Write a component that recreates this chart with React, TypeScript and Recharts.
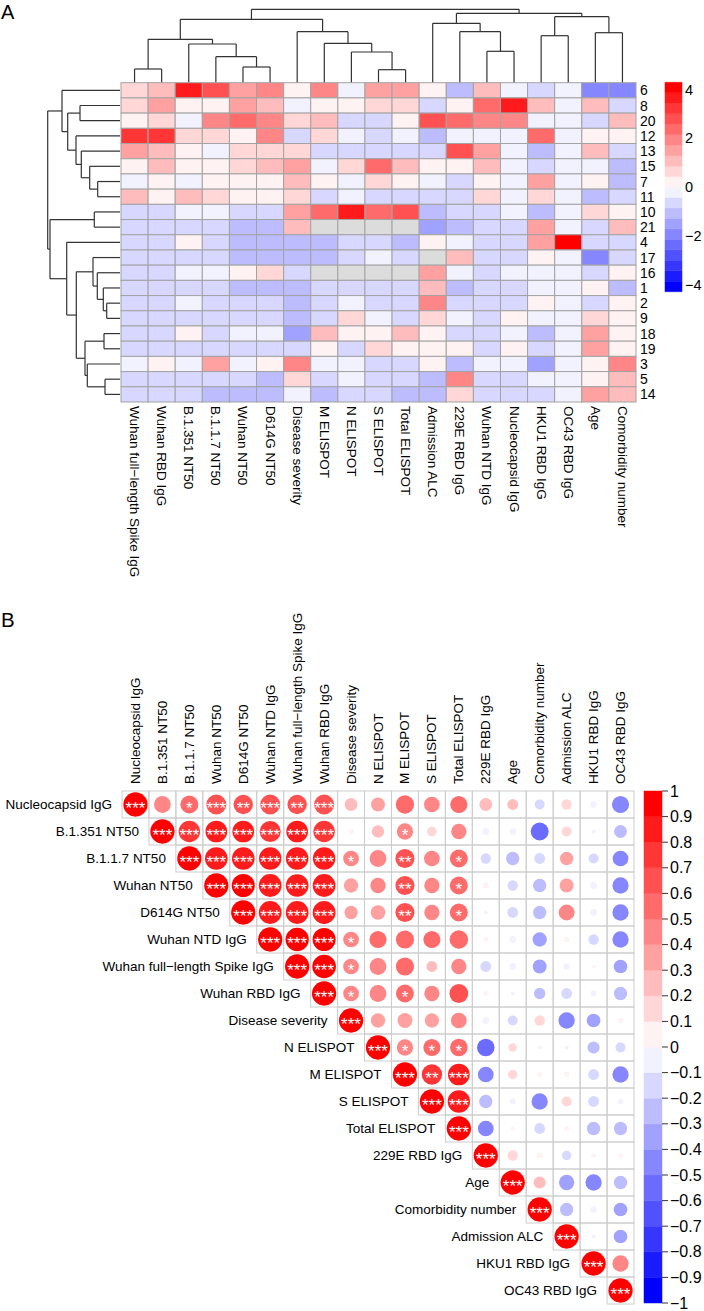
import React from 'react';
import { ScatterChart, Scatter, XAxis, YAxis, ReferenceLine, ReferenceArea } from 'recharts';

const FONT = '"Liberation Sans", Arial, Helvetica, sans-serif';

// ---------- Panel A: clustered heatmap ----------
const heatCols = [
  'Wuhan full\u2212length Spike IgG', 'Wuhan RBD IgG', 'B.1.351 NT50', 'B.1.1.7 NT50', 'Wuhan NT50',
  'D614G NT50', 'Disease severity', 'M ELISPOT', 'N ELISPOT', 'S ELISPOT', 'Total ELISPOT',
  'Admission ALC', '229E RBD IgG', 'Wuhan NTD IgG', 'Nucleocapsid IgG', 'HKU1 RBD IgG',
  'OC43 RBD IgG', 'Age', 'Comorbidity number',
];
const heatRows = ['6', '8', '20', '12', '13', '15', '7', '11', '10', '21', '4', '17', '16', '1', '2', '9', '18', '19', '3', '5', '14'];

// z-scores, one row per patient (null = missing)
const heatValues: (number | null)[][] = [
  [0.6, 1.1, 3.7, 3.0, 1.5, 1.9, 0.2, 1.9, -0.2, 1.5, 1.5, 0.2, -1.1, 1.1, -0.2, -0.6, -0.2, -1.9, -1.9],
  [0.6, 1.5, 0.2, 0.2, 1.5, 1.1, -0.2, 0.2, 0.2, 0.6, 0.6, -0.6, 0.2, 2.4, 3.7, 1.1, -0.2, 1.1, -0.6],
  [0.2, 0.6, -0.2, 1.9, 2.4, 1.9, 0.6, 1.1, -0.6, -0.6, 0.2, 2.8, 2.4, 1.9, 1.9, -0.2, -0.2, -0.6, 1.1],
  [3.2, 3.2, 0.6, 0.6, 0.2, 1.9, -0.6, 0.6, -0.2, -0.6, -0.2, -1.1, -0.2, -0.2, -0.2, 2.4, -0.2, 0.2, 0.2],
  [1.5, 1.1, 0.2, -0.2, 0.6, 0.6, 0.6, -0.6, -0.6, -0.6, -0.6, -0.6, 2.8, 1.5, -0.2, -1.1, -0.2, 1.1, -0.6],
  [0.2, 1.1, 0.2, 0.2, 0.6, 1.1, 1.5, -0.2, 0.6, 2.4, 1.1, 0.2, 0.2, 1.1, -0.2, -0.6, -0.2, -0.2, -1.1],
  [-0.2, 0.2, -0.2, 0.2, 0.2, 0.2, 1.1, 0.2, -0.2, 0.6, 0.2, -0.2, -0.6, 0.2, -0.2, 1.5, -0.2, 0.2, -1.1],
  [1.1, 0.2, 1.1, 0.6, 0.2, 0.2, 0.6, -0.6, -0.2, -0.6, -0.6, -0.6, -0.6, 0.6, -0.2, 0.6, -0.2, -1.1, -0.6],
  [-0.6, -0.6, -0.2, -0.2, -0.6, -0.6, 1.5, 2.4, 3.7, 2.4, 2.8, -1.1, -0.6, -0.6, -0.2, -1.1, -0.2, 0.6, 0.2],
  [-0.6, -0.6, -0.6, -0.6, -1.1, -1.1, 1.1, null, null, null, null, -1.5, -1.1, -0.6, -0.6, 1.5, -0.2, -0.6, 1.1],
  [-0.6, -0.6, 0.2, -0.6, -1.1, -1.1, -1.1, -1.1, -0.6, -0.6, -1.1, 0.2, -0.2, -0.6, -0.6, 1.5, 4.1, -0.6, -0.6],
  [-0.6, -0.6, -0.6, -0.6, -1.1, -1.1, -1.1, -1.1, -0.6, -0.2, -0.6, null, 1.1, -0.6, -0.6, 0.2, -0.2, -1.9, -0.6],
  [-0.6, -0.6, -0.2, -0.2, 0.2, 0.6, -0.6, null, null, null, null, 1.5, -0.2, -0.6, -0.2, -0.2, -0.2, -0.6, 0.2],
  [-0.6, -0.6, -0.6, -0.6, -1.1, -1.1, -1.1, -0.6, -0.6, -0.6, -0.6, 1.1, -1.1, -0.6, -0.6, -0.2, -0.2, 0.2, -1.1],
  [-0.6, -0.6, -0.2, -0.6, -0.6, -0.6, -1.1, -0.6, -0.2, -0.6, -0.6, 1.9, -0.6, -0.6, -0.6, 0.2, -0.2, -0.6, 0.2],
  [-0.6, -0.6, -0.6, -0.6, -0.6, -0.6, -1.1, -0.6, 0.6, -0.2, -0.6, 0.6, -0.2, -0.6, 0.2, -0.2, -0.2, 0.6, 0.2],
  [-0.6, -0.6, 0.2, -0.6, -0.2, -0.2, -1.5, 1.1, 0.2, 0.2, 1.1, 0.2, -0.6, -0.6, -0.2, -1.1, -0.2, 1.5, 0.2],
  [-0.6, -0.6, -0.6, -0.6, -0.6, -0.6, -0.6, 0.2, -0.6, 0.6, 0.2, 0.2, 0.2, -0.6, 0.2, -0.6, -0.2, 1.5, 0.2],
  [-0.2, 0.2, -0.2, 1.5, -0.2, 0.2, 1.9, -0.2, -0.2, -0.6, -0.6, 0.2, -1.1, -0.2, -0.2, -1.5, -0.2, 0.2, 1.9],
  [-0.6, -0.6, -0.6, -0.6, -0.6, -1.1, 0.6, -0.6, -0.2, -0.6, -0.6, -1.1, 1.9, -0.6, -0.6, -0.2, -0.2, 0.2, 1.1],
  [-0.6, -0.6, -0.6, -1.1, -1.1, -1.1, -0.2, -1.1, -0.6, -0.6, -1.1, -1.1, 0.6, -0.6, -0.6, -0.6, -0.2, 1.5, 1.1],
];

// hclust-style merges: negative = leaf (1-based), positive = earlier merge
const colMerge: [number, number][] = [
  [-1, -2], [-5, -6], [-4, 2], [-3, 3], [1, 4], [-10, -11], [-9, 6], [-8, 7], [-7, 8], [5, 9],
  [-14, -15], [-13, 11], [-12, 12], [-16, -17], [-18, -19], [14, 15], [13, 16], [10, 17],
];
const colHeight = [13.3, 15.3, 25.6, 38.3, 43, 12.6, 30.3, 39, 50.6, 63, 31, 50.6, 59, 46.6, 49.6, 65.6, 69, 73];

const rowMerge: [number, number][] = [
  [-2, -3], [-7, -8], [-6, 2], [-5, 3], [-4, 4], [1, 5], [-1, 6], [-9, -10], [-15, -16], [-14, 9],
  [-13, 10], [-12, 11], [-17, -18], [-20, -21], [-19, 14], [13, 15], [12, 16], [-11, 17], [8, 18], [7, 19],
];
const rowHeight = [40, 22.3, 30.3, 38.7, 44, 52.3, 58, 25.7, 13.3, 16.7, 22.7, 27, 16, 15, 32.7, 35, 43.7, 53.3, 70, 72.3];

const heatTicks = [-4, -2, 0, 2, 4];

// ---------- Panel B: correlation matrix ----------
const corrVars = [
  'Nucleocapsid IgG', 'B.1.351 NT50', 'B.1.1.7 NT50', 'Wuhan NT50', 'D614G NT50', 'Wuhan NTD IgG',
  'Wuhan full\u2212length Spike IgG', 'Wuhan RBD IgG', 'Disease severity', 'N ELISPOT', 'M ELISPOT',
  'S ELISPOT', 'Total ELISPOT', '229E RBD IgG', 'Age', 'Comorbidity number', 'Admission ALC',
  'HKU1 RBD IgG', 'OC43 RBD IgG',
];

// upper triangle, row i holds columns i..18
const corrUpper = [
  [1, 0.48, 0.55, 0.68, 0.64, 0.68, 0.64, 0.68, 0.28, 0.33, 0.57, 0.42, 0.5, 0.28, 0.2, -0.17, 0.18, -0.07, -0.5],
  [1, 0.78, 0.8, 0.8, 0.75, 0.8, 0.78, 0.05, 0.26, 0.45, 0.16, 0.4, -0.08, -0.07, -0.55, 0.17, -0.03, -0.28],
  [1, 0.87, 0.87, 0.85, 0.86, 0.85, 0.42, 0.48, 0.62, 0.42, 0.55, -0.18, -0.3, -0.2, 0.3, -0.17, -0.42],
  [1, 0.9, 0.88, 0.87, 0.88, 0.35, 0.4, 0.62, 0.4, 0.55, 0.06, -0.18, -0.3, 0.33, -0.08, -0.45],
  [1, 0.88, 0.88, 0.89, 0.3, 0.36, 0.62, 0.4, 0.55, -0.02, -0.2, -0.3, 0.43, -0.08, -0.45],
  [1, 0.92, 0.9, 0.42, 0.5, 0.56, 0.5, 0.58, 0.04, -0.08, -0.35, 0.05, -0.18, -0.45],
  [1, 0.95, 0.42, 0.48, 0.56, 0.2, 0.4, -0.2, -0.08, -0.33, -0.07, 0.03, -0.32],
  [1, 0.42, 0.48, 0.55, 0.4, 0.6, 0.04, -0.03, -0.22, -0.2, -0.06, -0.3],
  [1, 0.35, 0.38, 0.35, 0.42, -0.08, -0.17, 0.18, -0.45, -0.32, 0.05],
  [1, 0.45, 0.5, 0.52, -0.52, 0.12, -0.03, -0.03, -0.25, -0.17],
  [1, 0.7, 0.8, -0.42, 0.15, 0.05, 0.05, -0.2, -0.45],
  [1, 0.85, -0.3, -0.06, -0.45, 0.17, -0.2, -0.05],
  [1, -0.42, 0.03, -0.2, 0.04, -0.3, -0.3],
  [1, 0.18, 0.06, -0.15, 0.04, 0.04],
  [1, 0.25, -0.4, -0.45, -0.3],
  [1, -0.3, -0.07, -0.32],
  [1, -0.03, -0.32],
  [1, 0.45],
  [1],
];

// significance marks off the diagonal (diagonal is all ***)
const corrStars: [number, number, string][] = [
  [0, 2, '*'], [0, 3, '***'], [0, 4, '**'], [0, 5, '***'], [0, 6, '**'], [0, 7, '***'],
  [1, 2, '***'], [1, 3, '***'], [1, 4, '***'], [1, 5, '***'], [1, 6, '***'], [1, 7, '***'], [1, 10, '*'],
  [2, 3, '***'], [2, 4, '***'], [2, 5, '***'], [2, 6, '***'], [2, 7, '***'], [2, 8, '*'], [2, 10, '**'], [2, 12, '*'],
  [3, 4, '***'], [3, 5, '***'], [3, 6, '***'], [3, 7, '***'], [3, 10, '**'], [3, 12, '*'],
  [4, 5, '***'], [4, 6, '***'], [4, 7, '***'], [4, 10, '**'], [4, 12, '*'],
  [5, 6, '***'], [5, 7, '***'], [5, 8, '*'],
  [6, 7, '***'], [6, 8, '*'],
  [7, 8, '*'], [7, 10, '*'],
  [9, 10, '*'], [9, 11, '*'], [9, 12, '*'],
  [10, 11, '**'], [10, 12, '***'],
  [11, 12, '***'],
];

const corrTicks = [1, 0.9, 0.8, 0.7, 0.6, 0.5, 0.4, 0.3, 0.2, 0.1, 0, -0.1, -0.2, -0.3, -0.4, -0.5, -0.6, -0.7, -0.8, -0.9, -1];

// ---------- helpers ----------
const ramp = (t: number) => {
  if (t < 0.5) {
    const c = Math.round(255 * (t / 0.5));
    return `rgb(${c},${c},255)`;
  }
  const c = Math.round(255 * ((1 - t) / 0.5));
  return `rgb(255,${c},${c})`;
};
const bin = (k: number) => ramp(Math.min(19, Math.max(0, k)) / 19);
const heatColor = (v: number | null) => (v == null ? '#dcdcdc' : bin(Math.floor((v + 4.3) / 0.43 + 1e-9)));
const corrColor = (r: number) => bin(Math.floor((r + 1) * 10 + 1e-9));
const fmtMinus = (v: number) => (v < 0 ? '\u2212' + String(Math.abs(v)) : String(v));

function dendroSegments(merge: [number, number][], heights: number[]) {
  const pos: number[] = [];
  const segs: number[][] = [];
  const node = (k: number) => (k < 0 ? { p: -k - 0.5, h: 0 } : { p: pos[k - 1], h: heights[k - 1] });
  merge.forEach(([a, b], i) => {
    const A = node(a);
    const B = node(b);
    const h = heights[i];
    segs.push([A.p, A.h, A.p, h], [B.p, B.h, B.p, h], [A.p, h, B.p, h]);
    pos[i] = (A.p + B.p) / 2;
  });
  return segs;
}

const nothing = () => <g />;

// layout
const HX0 = 121, HX1 = 636, HY0 = 82.7, HY1 = 402;
const HCW = (HX1 - HX0) / heatCols.length;
const HCH = (HY1 - HY0) / heatRows.length;
const BX0 = 122, BX1 = 634, BY0 = 791, BY1 = 1304;
const BCW = (BX1 - BX0) / corrVars.length;
const BCH = (BY1 - BY0) / corrVars.length;

const abs = (left: number, top: number): React.CSSProperties => ({ position: 'absolute', left, top });

// ---------- Panel A pieces ----------
const TopDendro = () => {
  const segs = dendroSegments(colMerge, colHeight);
  const leaves = heatCols.map((_, i) => ({ x: i + 0.5, y: 0 }));
  return (
    <div style={abs(0, 0)}>
      <ScatterChart width={704} height={90} margin={{ top: 9.3, bottom: 90 - 82.3, left: HX0, right: 704 - HX1 }}>
        <XAxis type="number" dataKey="x" domain={[0, heatCols.length]} hide allowDataOverflow />
        <YAxis type="number" dataKey="y" domain={[0, 73]} hide allowDataOverflow />
        <Scatter data={leaves} shape={nothing} isAnimationActive={false} />
        {segs.map((s, i) => (
          <ReferenceLine key={i} segment={[{ x: s[0], y: s[1] }, { x: s[2], y: s[3] }]}
            stroke="#333" strokeWidth={1.2} ifOverflow="visible" />
        ))}
      </ScatterChart>
    </div>
  );
};

const LeftDendro = () => {
  const segs = dendroSegments(rowMerge, rowHeight);
  const leaves = heatRows.map((_, i) => ({ x: 0, y: i + 0.5 }));
  return (
    <div style={abs(0, 0)}>
      <ScatterChart width={140} height={420} margin={{ top: HY0, bottom: 420 - HY1, left: 47.7, right: 140 - 120 }}>
        <XAxis type="number" dataKey="x" domain={[0, 72.3]} reversed hide allowDataOverflow />
        <YAxis type="number" dataKey="y" domain={[0, heatRows.length]} reversed hide allowDataOverflow />
        <Scatter data={leaves} shape={nothing} isAnimationActive={false} />
        {segs.map((s, i) => (
          <ReferenceLine key={i} segment={[{ x: s[1], y: s[0] }, { x: s[3], y: s[2] }]}
            stroke="#333" strokeWidth={1.2} ifOverflow="visible" />
        ))}
      </ScatterChart>
    </div>
  );
};

const HeatCell = (props: any) => {
  const { cx, cy, payload } = props;
  return (
    <rect x={cx - HCW / 2} y={cy - HCH / 2} width={HCW} height={HCH}
      fill={heatColor(payload.v)} stroke="#a3a3a3" strokeWidth={1} />
  );
};

const HeatColTick = (props: any) => {
  const { x, y, payload } = props;
  const name = heatCols[Math.floor(payload.value)];
  return (
    <text x={x} y={y} transform={`rotate(90, ${x}, ${y})`} textAnchor="start" dominantBaseline="central"
      fontSize={13.5} fontFamily={FONT} fill="#000">{name}</text>
  );
};

const HeatRowTick = (props: any) => {
  const { x, y, payload } = props;
  return (
    <text x={x} y={y} textAnchor="start" dominantBaseline="central" fontSize={14} fontFamily={FONT} fill="#000">
      {heatRows[Math.floor(payload.value)]}
    </text>
  );
};

const Heatmap = () => {
  const data: { x: number; y: number; v: number | null }[] = [];
  heatValues.forEach((row, r) => row.forEach((v, c) => data.push({ x: c + 0.5, y: r + 0.5, v })));
  const H = 600;
  return (
    <div style={abs(0, 0)}>
      <ScatterChart width={704} height={H} margin={{ top: HY0, left: HX0, right: 704 - HX1 - 30, bottom: H - HY1 - 190 }}>
        <XAxis type="number" dataKey="x" domain={[0, heatCols.length]} ticks={heatCols.map((_, i) => i + 0.5)}
          interval={0} height={190} tickSize={0} tickMargin={4} axisLine={false} tickLine={false} tick={HeatColTick} />
        <YAxis type="number" dataKey="y" orientation="right" domain={[0, heatRows.length]} reversed
          ticks={heatRows.map((_, i) => i + 0.5)} interval={0} width={30} tickSize={0} tickMargin={4}
          axisLine={false} tickLine={false} tick={HeatRowTick} />
        <Scatter data={data} shape={HeatCell} isAnimationActive={false} />
      </ScatterChart>
    </div>
  );
};

const HeatLegend = () => {
  const bins = Array.from({ length: 20 }, (_, k) => k);
  return (
    <div style={abs(640, 70)}>
      <ScatterChart width={64} height={240} margin={{ top: 82.3 - 70, bottom: 240 - (291.7 - 70), left: 25, right: 0 }}>
        <XAxis type="number" dataKey="x" domain={[0, 1]} hide />
        <YAxis type="number" dataKey="y" orientation="right" domain={[-4.3, 4.3]} ticks={heatTicks} interval={0}
          width={22} tickSize={0} tickMargin={3} axisLine={false} tickLine={false} allowDataOverflow
          tickFormatter={fmtMinus} tick={{ fontSize: 14.5, fill: '#000', fontFamily: FONT }} />
        <Scatter data={heatTicks.map((t) => ({ x: 0.5, y: t }))} shape={nothing} isAnimationActive={false} />
        {bins.map((k) => (
          <ReferenceArea key={k} y1={-4.3 + k * 0.43} y2={-4.3 + (k + 1) * 0.43} fill={bin(k)} fillOpacity={1}
            stroke={bin(k)} strokeWidth={0.5} ifOverflow="visible" />
        ))}
      </ScatterChart>
    </div>
  );
};

// ---------- Panel B pieces ----------
const CorrCell = (props: any) => {
  const { cx, cy, payload } = props;
  const rad = 0.45 * Math.min(BCW, BCH) * Math.sqrt(Math.abs(payload.r));
  return (
    <g>
      <rect x={cx - BCW / 2} y={cy - BCH / 2} width={BCW} height={BCH} fill="none" stroke="#cdcdcd" strokeWidth={1} />
      <circle cx={cx} cy={cy} r={rad} fill={corrColor(payload.r)} />
      {payload.stars ? (
        <text x={cx} y={cy + 9.5} textAnchor="middle" fontSize={17} fill="#fff" fontFamily={FONT}>{payload.stars}</text>
      ) : null}
      {payload.i === payload.j ? (
        <text x={cx - BCW / 2 - 10} y={cy} textAnchor="end" dominantBaseline="central" fontSize={13.5}
          fontFamily={FONT} fill="#000">{corrVars[payload.i]}</text>
      ) : null}
    </g>
  );
};

const CorrColTick = (props: any) => {
  const { x, y, payload } = props;
  const name = corrVars[Math.floor(payload.value)];
  return (
    <text x={x} y={y} transform={`rotate(-90, ${x}, ${y})`} textAnchor="start" dominantBaseline="central"
      fontSize={13.5} fontFamily={FONT} fill="#000">{name}</text>
  );
};

const CorrPlot = () => {
  const starOf = (i: number, j: number) => {
    if (i === j) return '***';
    const s = corrStars.find((e) => e[0] === i && e[1] === j);
    return s ? s[2] : '';
  };
  const data: { x: number; y: number; r: number; i: number; j: number; stars: string }[] = [];
  corrUpper.forEach((row, i) => row.forEach((r, k) => {
    const j = i + k;
    data.push({ x: j + 0.5, y: i + 0.5, r, i, j, stars: starOf(i, j) });
  }));
  const top = 590, H = 721;
  return (
    <div style={abs(0, top)}>
      <ScatterChart width={704} height={H} margin={{ top: BY0 - top - 190, left: BX0, right: 704 - BX1, bottom: top + H - BY1 }}>
        <XAxis type="number" dataKey="x" orientation="top" domain={[0, corrVars.length]} ticks={corrVars.map((_, i) => i + 0.5)}
          interval={0} height={190} tickSize={0} tickMargin={7} axisLine={false} tickLine={false} tick={CorrColTick} />
        <YAxis type="number" dataKey="y" domain={[0, corrVars.length]} reversed hide />
        <Scatter data={data} shape={CorrCell} isAnimationActive={false} />
      </ScatterChart>
    </div>
  );
};

const CorrLegend = () => {
  const bins = Array.from({ length: 20 }, (_, k) => k);
  const left = 630, top = 780, H = 531;
  return (
    <div style={abs(left, top)}>
      <ScatterChart width={74} height={H} margin={{ top: BY0 - top, bottom: top + H - BY1 + 1, left: 644 - left, right: 0 }}>
        <XAxis type="number" dataKey="x" domain={[0, 1]} hide />
        <YAxis type="number" dataKey="y" orientation="right" domain={[-1, 1]} ticks={corrTicks} interval={0}
          width={42} tickSize={6} tickMargin={2} axisLine={false} tickLine={{ stroke: '#333' }} allowDataOverflow
          tickFormatter={fmtMinus} tick={{ fontSize: 16, fill: '#000', fontFamily: FONT }} />
        <Scatter data={corrTicks.map((t) => ({ x: 0.5, y: t }))} shape={nothing} isAnimationActive={false} />
        {bins.map((k) => (
          <ReferenceArea key={k} y1={-1 + k * 0.1} y2={-1 + (k + 1) * 0.1} fill={bin(k)} fillOpacity={1}
            stroke={bin(k)} strokeWidth={0.5} ifOverflow="visible" />
        ))}
      </ScatterChart>
    </div>
  );
};

export default function App() {
  return (
    <div style={{ position: 'absolute', left: 0, top: 0, width: 704, height: 1311, background: '#fff', fontFamily: FONT }}>
      <Heatmap />
      <TopDendro />
      <LeftDendro />
      <HeatLegend />
      <CorrPlot />
      <CorrLegend />
      <svg width={704} height={1311} style={{ position: 'absolute', left: 0, top: 0, pointerEvents: 'none' }}>
        <text x={1} y={19} fontSize={20} fontFamily={FONT} fill="#000">A</text>
        <text x={1} y={627} fontSize={20.5} fontFamily={FONT} fill="#000">B</text>
      </svg>
    </div>
  );
}
